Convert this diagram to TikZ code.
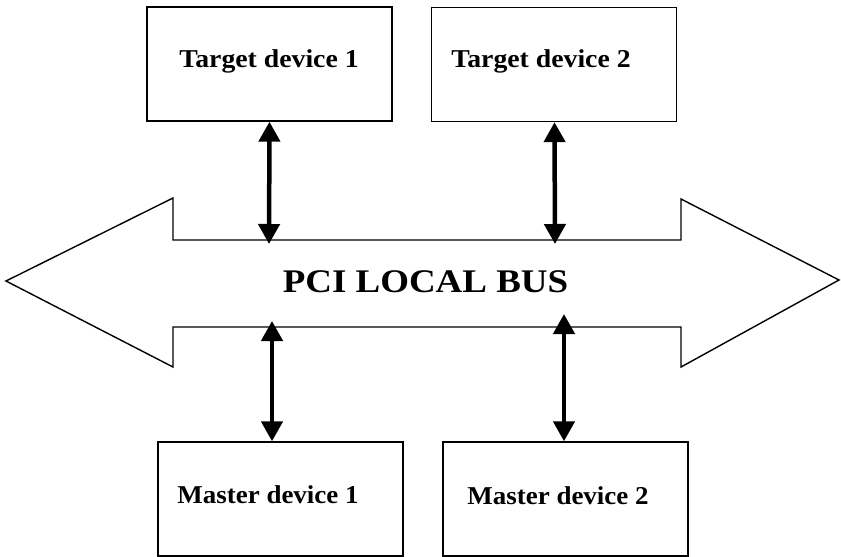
\documentclass[tikz,border=0pt]{standalone}
\usepackage{fontspec}
\setmainfont{Liberation Serif}
\usetikzlibrary{arrows.meta}
\tikzset{
  devbox/.style={draw=black, line width=1.4pt, minimum width=245pt, minimum height=114pt, inner sep=0pt},
  devtext/.style={anchor=base, inner sep=0pt, font=\bfseries\fontsize{25.7}{30}\selectfont},
  bustext/.style={anchor=base, inner sep=0pt, font=\bfseries\fontsize{33}{38}\selectfont},
  busline/.style={draw=black, line width=1.4pt, line join=miter},
  biarrow/.style={line width=4.5pt, {Triangle[length=20pt,width=21pt]}-{Triangle[length=20pt,width=21pt]}}
}
\begin{document}
\begin{tikzpicture}[x=1pt,y=-1pt]
\useasboundingbox (0,0) rectangle (841,557);
% bus outline
\draw[busline] (6,281) -- (173,198) -- (173,240) -- (681,240) -- (681,199) -- (839,280)
  -- (681,367) -- (681,327) -- (173,327) -- (173,367) -- cycle;
\node[bustext] (bus) at (425.5,292) {\scalebox{1.12}[1]{PCI LOCAL BUS}};
% devices
\node[devbox] (t1) at (269.5,64) {};
\node[devbox] (t2) at (554,64.5) {};
\node[devbox] (m1) at (280.5,499) {};
\node[devbox] (m2) at (565.5,499) {};
\node[devtext] (t1l) at (269,67) {\scalebox{1.08}[1]{Target device 1}};
\node[devtext] (t2l) at (541,67) {\scalebox{1.08}[1]{Target device 2}};
\node[devtext] (m1l) at (268,503) {\scalebox{1.05}[1]{Master device 1}};
\node[devtext] (m2l) at (558,504) {\scalebox{1.05}[1]{Master device 2}};
% bus attachment points
\coordinate (bt1) at (269,244);
\coordinate (bt2) at (555,244);
\coordinate (bb1) at (272,321);
\coordinate (bb2) at (564,314);
% connectors
\draw[biarrow] (t1.south) -- (bt1);
\draw[biarrow] ([xshift=0.5pt]t2.south) -- (bt2);
\draw[biarrow] (bb1) -- ([xshift=-8.5pt]m1.north);
\draw[biarrow] (bb2) -- ([xshift=-1.5pt]m2.north);
\end{tikzpicture}
\end{document}
